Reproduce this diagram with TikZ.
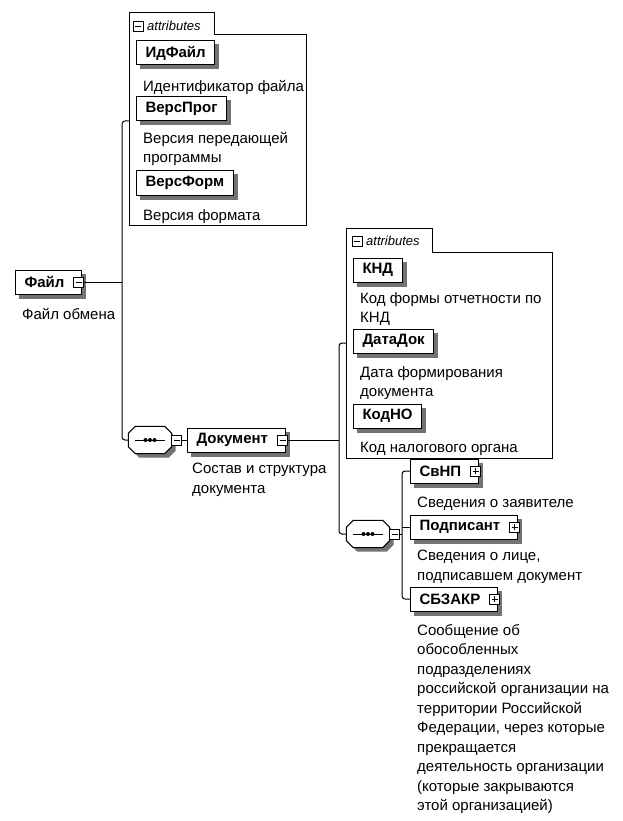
\documentclass[tikz,border=0pt]{standalone}
\usepackage{fontspec}
\setmainfont{Liberation Sans}
\usetikzlibrary{backgrounds,positioning}

\colorlet{shadowc}{black!55}
\newcommand{\octpath}[1]{([xshift=7pt]#1.north west) -- ([xshift=-7pt]#1.north east)
      -- ([yshift=-7pt]#1.north east) -- ([yshift=7pt]#1.south east)
      -- ([xshift=-7pt]#1.south east) -- ([xshift=7pt]#1.south west)
      -- ([yshift=7pt]#1.south west) -- ([yshift=-7pt]#1.north west) -- cycle}
\tikzset{
  elem/.style={draw, fill=white, line width=1pt, font=\bfseries, anchor=west,
    minimum height=24pt, inner xsep=9pt, inner ysep=0pt},
  haskids/.style={execute at end node={\hspace*{8pt}}},
  desc/.style={anchor=north west, inner sep=0pt, align=left, execute at begin node=\strut},
  expander/.style={draw, fill=white, line width=0.8pt, minimum size=10pt, inner sep=0pt},
  minus/.style={expander, path picture={
      \draw[line width=0.9pt] ([xshift=2pt]path picture bounding box.west) -- ([xshift=-2pt]path picture bounding box.east);}},
  plus/.style={expander, path picture={
      \draw[line width=0.9pt] ([xshift=2pt]path picture bounding box.west) -- ([xshift=-2pt]path picture bounding box.east);
      \draw[line width=0.9pt] ([yshift=2pt]path picture bounding box.south) -- ([yshift=-2pt]path picture bounding box.north);}},
  seq/.style={minimum width=43pt, minimum height=27pt, inner sep=0pt},
  frame/.style={line width=1pt},
  hdr/.style={font=\fontsize{13}{15}\selectfont\itshape, inner sep=0pt, anchor=west},
  link/.style={line width=1pt, rounded corners=3pt},
}

\begin{document}
\fontsize{15}{19.5}\selectfont
\begin{tikzpicture}[x=1pt,y=-1pt]
  \useasboundingbox (0,0) rectangle (622,821);

  % attributes of Файл
  \draw[frame] (129,225) -- (129,13) -- (214,13) -- (214,35) -- (306,35) -- (306,225) -- cycle;
  \node[minus] (attr1-x) at (138,26) {};
  \node[hdr] (attr1-t) at (147,26) {attributes};
  \node[elem] (idfajl) at (136,53) {ИдФайл};
  \node[desc] (idfajl-d) at (143,78) {Идентификатор файла};
  \node[elem] (versprog) at (136,109) {ВерсПрог};
  \node[desc] (versprog-d) at (143,132) {Версия передающей\\программы};
  \node[elem] (versform) at (136,183) {ВерсФорм};
  \node[desc] (versform-d) at (143,207) {Версия формата};
  \coordinate (attr1-in) at (129,121);

  % root
  \node[elem,haskids] (fajl) at (15,282) {Файл};
  \node[desc] (fajl-d) at (22,306) {Файл обмена};
  \coordinate (bus1) at (122,282);

  % Документ
  \node[seq] (seq1) at (150,440) {};
  \node[elem,haskids] (dok) at (187,440) {Документ};
  \node[desc] (dok-d) at (192,463) {Состав и структура\\документа};
  \coordinate (bus2) at (339,440);

  % attributes of Документ
  \draw[frame] (346,458) -- (346,228) -- (432,228) -- (432,252) -- (552,252) -- (552,458) -- cycle;
  \node[minus] (attr2-x) at (357,241) {};
  \node[hdr] (attr2-t) at (366,241) {attributes};
  \node[elem] (knd) at (353,270) {КНД};
  \node[desc] (knd-d) at (360,292) {Код формы отчетности по\\КНД};
  \node[elem] (datadok) at (353,341) {ДатаДок};
  \node[desc] (datadok-d) at (360,366) {Дата формирования\\документа};
  \node[elem] (kodno) at (353,416) {КодНО};
  \node[desc] (kodno-d) at (360,439) {Код налогового органа};
  \coordinate (attr2-in) at (346,343);

  % children of Документ
  \node[seq] (seq2) at (368,534) {};
  \coordinate (bus3) at (402,534);
  \node[elem,haskids] (svnp) at (410,471) {СвНП};
  \node[desc] (svnp-d) at (417,494) {Сведения о заявителе};
  \node[elem,haskids] (podp) at (410,527) {Подписант};
  \node[desc] (podp-d) at (417,550) {Сведения о лице,\\подписавшем документ};
  \node[elem,haskids] (sbzakr) at (410,599) {СБЗАКР};
  \node[desc] (sbzakr-d) at (417,624) {Сообщение об\\обособленных\\подразделениях\\российской организации на\\территории Российской\\Федерации, через которые\\прекращается\\деятельность организации\\(которые закрываются\\этой организацией)};

  % shadows
  \begin{scope}[on background layer]
    \foreach \n in {idfajl,versprog,versform,fajl,dok,knd,datadok,kodno,svnp,podp,sbzakr}
      \fill[shadowc] ([xshift=4pt,yshift=-4pt]\n.south west) rectangle ([xshift=4pt,yshift=-4pt]\n.north east);
  \end{scope}

  % sequence compositors
  \foreach \n in {seq1,seq2}{
    \fill[shadowc,transform canvas={shift={(4pt,-4pt)}}] \octpath{\n};
    \draw[frame,fill=white] \octpath{\n};
    \draw[line width=1pt] ([xshift=7pt]\n.west) -- ([xshift=-7pt]\n.east);
    \foreach \d in {-4.5,0,4.5}
      \fill ([xshift=\d pt]\n.center) circle (2pt);
  }

  % expanders
  \node[minus] (fajl-x) at ([xshift=-3pt]fajl.east) {};
  \node[minus] (seq1-x) at ([xshift=5pt]seq1.east) {};
  \node[minus] (dok-x) at ([xshift=-3pt]dok.east) {};
  \node[minus] (seq2-x) at ([xshift=5pt]seq2.east) {};
  \node[plus] (svnp-x) at ([xshift=-3pt]svnp.east) {};
  \node[plus] (podp-x) at ([xshift=-3pt]podp.east) {};
  \node[plus] (sbzakr-x) at ([xshift=-3pt]sbzakr.east) {};

  % connectors
  \draw[link] (fajl-x.east) -- (bus1);
  \draw[link] (attr1-in) -| (bus1) |- (seq1.west);
  \draw[link] (seq1-x.east) -- (dok.west);
  \draw[link] (dok-x.east) -- (bus2);
  \draw[link] (attr2-in) -| (bus2) |- (seq2.west);
  \draw[link] (seq2-x.east) -- (bus3);
  \draw[link] (svnp.west) -| (bus3) |- (sbzakr.west);
  \draw[link] (podp.west) -- (podp.west -| bus3);
\end{tikzpicture}
\end{document}
